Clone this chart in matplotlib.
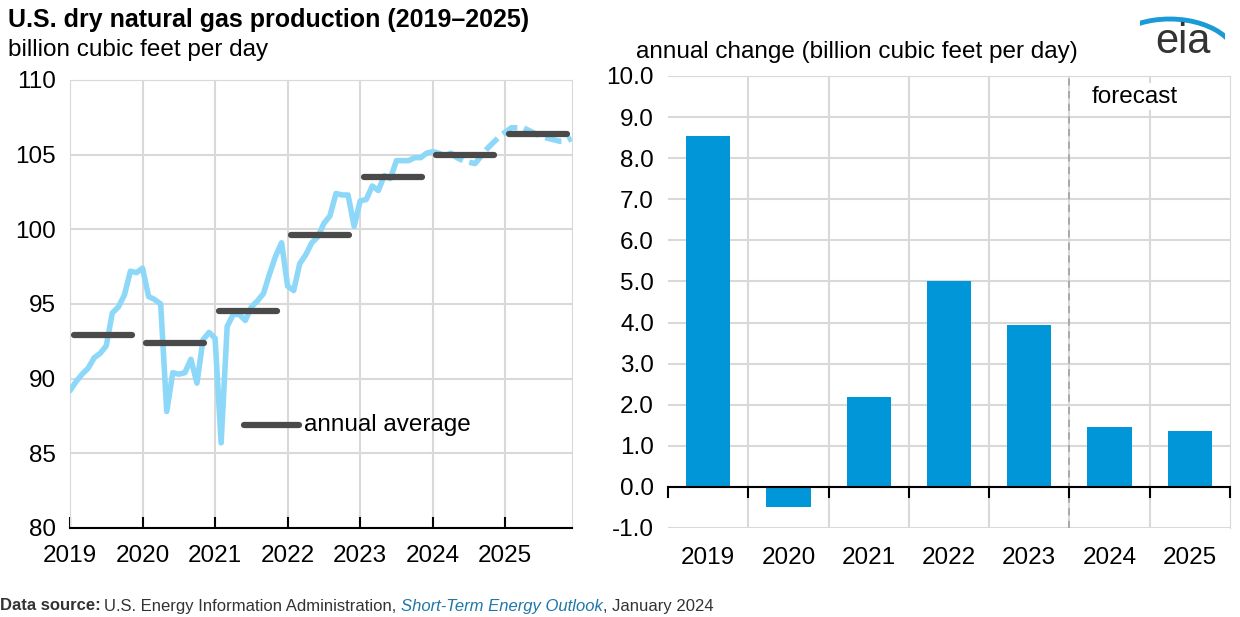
import matplotlib
matplotlib.use("Agg")
import matplotlib.pyplot as plt
from matplotlib.patches import Arc
import numpy as np

plt.rcParams['font.family'] = ['Liberation Sans', 'DejaVu Sans']

# monthly dry gas production, Jan 2019 - Dec 2025 (bcf/d)
prod_2019 = [89.2, 89.8, 90.3, 90.7, 91.4, 91.7, 92.2, 94.4, 94.8, 95.6, 97.2, 97.1]
prod_2020 = [97.4, 95.5, 95.3, 95.0, 87.8, 90.4, 90.3, 90.4, 91.3, 89.7, 92.6, 93.1]
prod_2021 = [92.7, 85.7, 93.5, 94.3, 94.3, 93.9, 94.8, 95.2, 95.7, 97.0, 98.2, 99.1]
prod_2022 = [96.2, 95.9, 97.7, 98.3, 99.1, 99.5, 100.4, 100.9, 102.4, 102.3, 102.3, 100.2]
prod_2023 = [101.9, 102.0, 102.9, 102.6, 103.6, 103.4, 104.6, 104.6, 104.6, 104.8, 104.8, 105.1]
prod_2024 = [105.2, 105.1, 104.9, 105.1, 104.8, 104.6, 104.5, 104.4, 104.9, 105.4, 105.8, 106.2]
prod_2025 = [106.5, 106.8, 106.8, 106.8, 106.6, 106.4, 106.2, 106.1, 106.0, 105.9, 105.9, 106.1]

years = [2019, 2020, 2021, 2022, 2023, 2024, 2025]
annual_avg = [92.9, 92.4, 94.5, 99.6, 103.5, 105.0, 106.4]
annual_change = [8.55, -0.5, 2.2, 5.0, 3.95, 1.45, 1.35]

hist = prod_2019 + prod_2020 + prod_2021 + prod_2022 + prod_2023
fcst = prod_2024 + prod_2025
t_hist = 2019 + np.arange(len(hist)) / 12
t_fcst = 2019 + np.arange(len(hist) - 1, len(hist) + len(fcst)) / 12

light_blue = '#8dd8f8'
dark = '#4a4a4a'
bar_blue = '#0096d7'
grid_c = '#d9d9d9'
fs = 17.5

fig = plt.figure(figsize=(12.4, 6.17), dpi=100)

# left panel
ax1 = fig.add_axes([70 / 1240, 89 / 617, 502 / 1240, 448 / 617])
ax1.plot(t_hist, hist, color=light_blue, lw=4, solid_capstyle='round', zorder=3)
ax1.plot(t_fcst, [hist[-1]] + fcst, color=light_blue, lw=4, ls=(0, (3, 1.2)), zorder=3)
for y, a in zip(years, annual_avg):
    ax1.plot([y + 0.05, y + 0.85], [a, a], color=dark, lw=4.5, solid_capstyle='round', zorder=4)
ax1.plot([2021.4, 2022.15], [86.9, 86.9], color=dark, lw=4.5, solid_capstyle='round')
ax1.text(2022.22, 86.9, 'annual average', fontsize=fs, va='center')
ax1.set_xlim(2019, 2025.92)
ax1.set_ylim(80, 110)
ax1.set_xticks(years)
ax1.set_yticks(range(80, 111, 5))
ax1.grid(True, color=grid_c, lw=1.5)
for s in ['top', 'right', 'left']:
    ax1.spines[s].set_color(grid_c)
ax1.spines['bottom'].set_color('black')
ax1.spines['bottom'].set_linewidth(1.5)
ax1.tick_params(axis='y', length=0, labelsize=fs, pad=10)
ax1.tick_params(axis='x', direction='in', length=8, width=1.5, labelsize=fs, pad=12)

# right panel
ax2 = fig.add_axes([668 / 1240, 89 / 617, 562 / 1240, 452 / 617])
x = np.arange(len(years))
ax2.bar(x, annual_change, width=0.55, color=bar_blue, zorder=3)
ax2.set_xlim(-0.5, len(years) - 0.5)
ax2.set_ylim(-1, 10)
ax2.set_yticks(np.arange(-1, 10.1, 1))
ax2.set_yticklabels([f'{v:.1f}' for v in np.arange(-1, 10.1, 1)])
ax2.set_xticks(x)
ax2.set_xticklabels([str(y) for y in years])
ax2.set_xticks(x[:-1] + 0.5, minor=True)
ax2.grid(True, axis='y', color=grid_c, lw=1.5)
ax2.grid(True, axis='x', which='minor', color=grid_c, lw=1.5)
ax2.axhline(0, color='black', lw=1.5, zorder=4)
ax2.axvline(4.5, color='#a6a6a6', lw=1.3, ls=(0, (4, 3)), zorder=4)
ax2.text(4.78, 9.5, 'forecast', fontsize=fs, va='center', zorder=5,
         bbox=dict(facecolor='white', edgecolor='none', pad=2))
for s in ax2.spines.values():
    s.set_visible(False)
ax2.spines['right'].set_visible(True)
ax2.spines['right'].set_color(grid_c)
ax2.spines['top'].set_visible(True)
ax2.spines['top'].set_color(grid_c)
ax2.tick_params(axis='y', length=0, labelsize=fs, pad=10)
ax2.tick_params(axis='x', which='major', length=0, labelsize=fs, pad=14)
ax2.tick_params(axis='x', which='minor', length=0)
for xm in list(x[:-1] + 0.5) + [-0.5, 6.5]:
    ax2.plot([xm, xm], [0, -0.25], color='black', lw=1.5, zorder=4, clip_on=False)

# titles and notes
fig.text(8 / 1240, 1 - 20 / 617, 'U.S. dry natural gas production (2019\u20132025)',
         fontsize=18, fontweight='bold', va='center')
fig.text(8 / 1240, 1 - 50 / 617, 'billion cubic feet per day', fontsize=fs, va='center')
fig.text(636 / 1240, 1 - 52 / 617, 'annual change (billion cubic feet per day)', fontsize=fs, va='center')
fig.text(1183 / 1240, 1 - 42 / 617, 'eia', fontsize=30, color='#333333', ha='center', va='center')
logo = fig.add_axes([1140 / 1240, 1 - 40 / 617, 85 / 1240, 35 / 617])
logo.axis('off')
logo.add_patch(Arc((0.35, -0.6), 1.6, 2.4, theta1=30, theta2=120, color='#1a9ad6', lw=3.5))
logo.set_xlim(0, 1)
logo.set_ylim(0, 1)

src_y = 1 - 606 / 617
t1 = fig.text(0, src_y, 'Data source:', fontsize=12, fontweight='bold', color='#333333', va='center')
fig.canvas.draw()
r = fig.canvas.get_renderer()
bb = t1.get_window_extent(r)
t2 = fig.text(bb.x1 / 1240 + 0.003, src_y, 'U.S. Energy Information Administration, ', fontsize=12,
              color='#333333', va='center')
bb = t2.get_window_extent(r)
t3 = fig.text(bb.x1 / 1240, src_y, 'Short-Term Energy Outlook', fontsize=12, style='italic',
              color='#1f77a8', va='center')
bb = t3.get_window_extent(r)
fig.text(bb.x1 / 1240, src_y, ', January 2024', fontsize=12, color='#333333', va='center')

fig.savefig('out.png', dpi=100)
